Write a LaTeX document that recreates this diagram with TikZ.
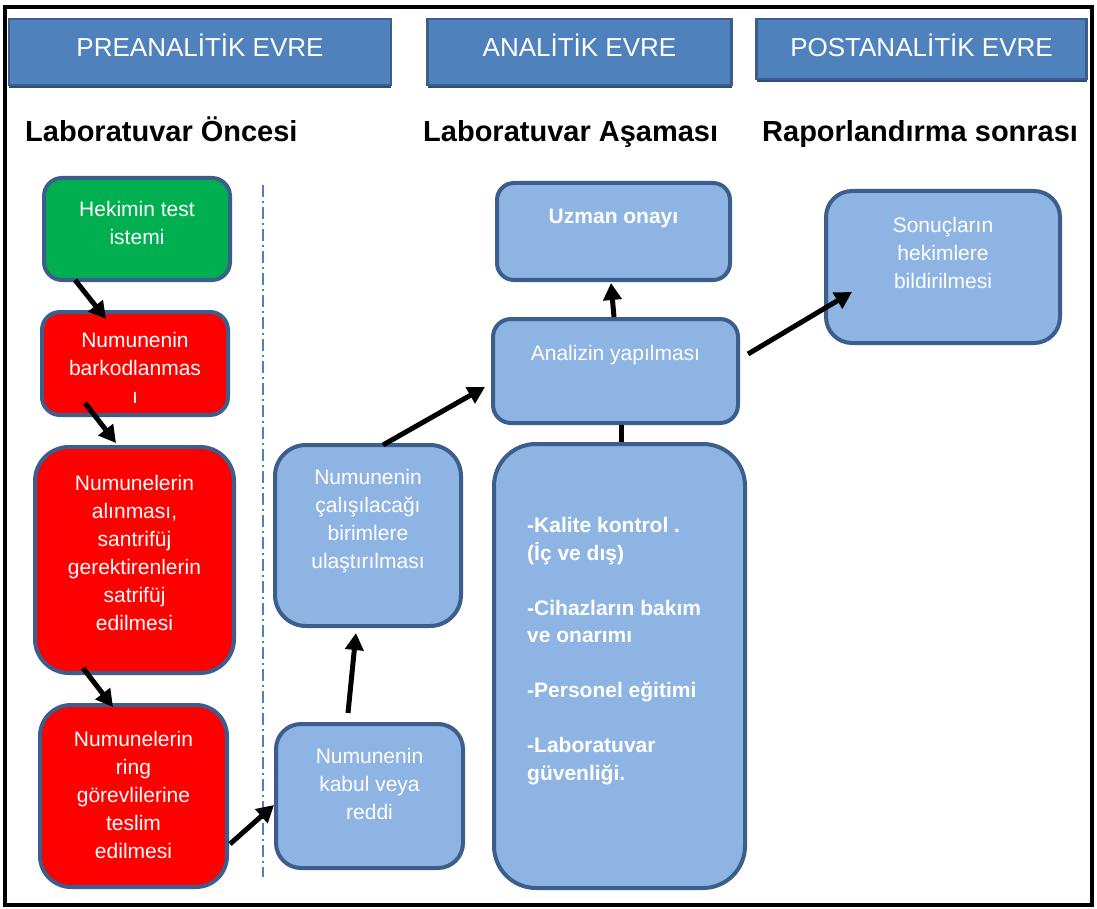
\documentclass[tikz,border=0pt]{standalone}
\usepackage{fontspec}
\setmainfont{Liberation Sans}
\usetikzlibrary{arrows.meta,shadows}
\definecolor{hdrblue}{HTML}{4F81BD}
\definecolor{edgeblue}{HTML}{3B5E8C}
\definecolor{shadeblue}{HTML}{2F4E75}
\definecolor{paleblue}{HTML}{8EB4E3}
\definecolor{okgreen}{HTML}{00B050}
\definecolor{alarmred}{HTML}{FF0000}

\begin{document}
\begin{tikzpicture}[x=1pt,y=-1pt,
  hdr/.style={draw=edgeblue,line width=2.5pt,fill=hdrblue,text=white,font=\fontsize{26}{30}\selectfont,text height=20pt,text depth=10pt,drop shadow={shadow xshift=0pt,shadow yshift=-3pt,fill=shadeblue,opacity=1}},
  phase/.style={font=\fontsize{29}{34}\selectfont\bfseries,anchor=base west,inner sep=0pt},
  rbox/.style={draw=edgeblue,line width=4pt,rounded corners=#1pt,fill=paleblue},
  btxt/.style={text=white,align=center,inner sep=0pt,font=\fontsize{21}{28}\selectfont},
  arrow/.style={-{Triangle[length=17pt,width=18pt]},line width=5pt},
  sep/.style={draw=hdrblue,line width=1.5pt,dash pattern=on 12pt off 4pt on 2pt off 4pt}
]
\useasboundingbox (0,0) rectangle (1097,909);

% phase headers
\node[hdr,minimum width=382pt,minimum height=66pt] (prehdr) at (200,52) {PREANALİTİK EVRE};
\node[hdr,minimum width=304pt,minimum height=66pt] (anahdr) at (579.5,52) {ANALİTİK EVRE};
\node[hdr,minimum width=330pt,minimum height=60pt,text depth=4pt] (posthdr) at (921.5,49) {POSTANALİTİK EVRE};

\node[phase] (pretitle) at (25,142) {Laboratuvar Öncesi};
\node[phase] (anatitle) at (423,142) {Laboratuvar Aşaması};
\node[phase] (posttitle) at (762,142) {Raporlandırma sonrası};

\draw[sep] (263,185) -- (263,877);

% left column
\node[rbox=18,fill=okgreen,minimum width=186pt,minimum height=102pt] (hek) at (137,229) {};
\node[btxt] (hektxt) at ([yshift=6.5pt]hek.center) {Hekimin test\\istemi};
\node[rbox=18,fill=alarmred,minimum width=186pt,minimum height=103pt] (bark) at (135,363.5) {};
\node[btxt] (barktxt) at ([yshift=-4pt]bark.center) {Numunenin\\barkodlanmas\\ı};
\node[rbox=34,fill=alarmred,minimum width=199pt,minimum height=226pt] (alin) at (134.5,560) {};
\node[btxt] (alintxt) at ([yshift=7.5pt]alin.center) {Numunelerin\\alınması,\\santrifüj\\gerektirenlerin\\satrifüj\\edilmesi};
\node[rbox=31,fill=alarmred,minimum width=187pt,minimum height=182pt] (ring) at (133.5,796) {};
\node[btxt] (ringtxt) at ([yshift=1.5pt]ring.center) {Numunelerin\\ring\\görevlilerine\\teslim\\edilmesi};

% middle column
\node[rbox=31,minimum width=186pt,minimum height=181pt] (calis) at (368,535.5) {};
\node[btxt] (calistxt) at ([yshift=14.5pt]calis.center) {Numunenin\\çalışılacağı\\birimlere\\ulaştırılması};
\node[rbox=25,minimum width=187pt,minimum height=144pt] (kabul) at (369.5,796) {};
\node[btxt] (kabultxt) at ([yshift=12.5pt]kabul.center) {Numunenin\\kabul veya\\reddi};

% analytic column
\node[rbox=17,minimum width=233pt,minimum height=97pt] (uzman) at (613.5,231.5) {};
\node[btxt,font=\fontsize{21}{28}\selectfont\bfseries] (uzmantxt) at ([yshift=13.5pt]uzman.center) {Uzman onayı};
\node[rbox=18,minimum width=245pt,minimum height=104pt] (analiz) at (615.5,371) {};
\node[btxt] (analiztxt) at ([yshift=16pt]analiz.center) {Analizin yapılması};
\node[rbox=42,minimum width=251pt,minimum height=444pt] (kalite) at (619.5,666) {};
\node[btxt,align=left,anchor=west,font=\fontsize{21}{27.5}\selectfont\bfseries] (kalitetxt) at ([xshift=35pt,yshift=15pt]kalite.west)
  {-Kalite kontrol .\\(İç ve dış)\\[27.5pt]-Cihazların bakım\\ve onarımı\\[27.5pt]-Personel eğitimi\\[27.5pt]-Laboratuvar\\güvenliği.};

% post-analytic
\node[rbox=26,minimum width=234pt,minimum height=152pt] (sonuc) at (943,267) {};
\node[btxt] (sonuctxt) at ([yshift=14pt]sonuc.center) {Sonuçların\\hekimlere\\bildirilmesi};

% flow
\draw[arrow] ([xshift=33pt,yshift=2pt]hek.south west) -- ([xshift=66pt,yshift=-9pt]bark.north west);
\draw[arrow] ([xshift=45pt,yshift=14pt]bark.south west) -- ([xshift=83pt,yshift=2pt]alin.north west);
\draw[arrow] ([xshift=50pt,yshift=7pt]alin.south west) -- ([xshift=75pt,yshift=-4pt]ring.north west);
\draw[arrow] ([xshift=1pt,yshift=-48pt]ring.east) -- ([yshift=-9pt]kabul.west);
\draw[arrow] ([xshift=-21.5pt,yshift=9pt]kabul.north) -- ([xshift=-12pt,yshift=-5pt]calis.south);
\draw[arrow] ([xshift=15pt,yshift=-2pt]calis.north) -- ([xshift=-6pt,yshift=-16pt]analiz.west);
\draw[arrow] ([xshift=-1.5pt]analiz.north) -- ([xshift=-2.5pt,yshift=-1pt]uzman.south);
\draw[line width=5pt] ([xshift=2pt]kalite.north) -- ([xshift=6pt]analiz.south);
\draw[arrow] ([xshift=8pt,yshift=17pt]analiz.east) -- ([xshift=28pt,yshift=-25pt]sonuc.west);

\draw[line width=4pt] (5,7) rectangle (1092,905);
\end{tikzpicture}
\end{document}
